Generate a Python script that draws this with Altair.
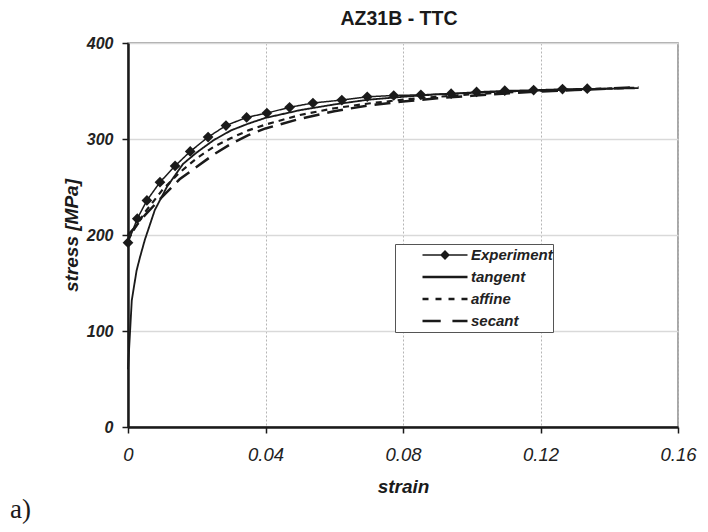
import altair as alt
import pandas as pd

series_order = ["Experiment", "tangent", "affine", "secant"]

exp_strain = [0.0000, 0.0027, 0.0055, 0.0093, 0.0137, 0.0181, 0.0233, 0.0285, 0.0345, 0.0404,
              0.0470, 0.0538, 0.0622, 0.0696, 0.0773, 0.0852, 0.0940, 0.1014, 0.1096, 0.1180,
              0.1264, 0.1336]
exp_stress = [192, 217, 236, 255, 272, 287, 302, 314, 322.5, 327,
              333, 337.5, 340.6, 344, 345.3, 346, 347.2, 349, 350.3, 351,
              352, 352.4]

tan_strain = [0.0, 0.0003, 0.0011, 0.0025, 0.0035, 0.0049, 0.0078, 0.0113, 0.016, 0.020,
              0.025, 0.030, 0.035, 0.040, 0.050, 0.060, 0.070, 0.080, 0.090, 0.100,
              0.110, 0.120, 0.130, 0.140, 0.1485]
tan_stress = [60, 80, 132, 163, 177, 195, 226, 250, 274, 286,
              299, 309, 316, 322, 330, 336, 341, 344, 346.5, 348,
              349.5, 350.5, 351.5, 352.3, 353]

mod_strain = [0.0, 0.002, 0.005, 0.010, 0.015, 0.020, 0.025, 0.030, 0.035, 0.040,
              0.050, 0.060, 0.070, 0.080, 0.090, 0.100, 0.110, 0.120, 0.130, 0.140, 0.1485]
aff_stress = [195, 207, 224, 247, 265, 280, 292, 301, 309, 315,
              325, 332, 337, 341, 344, 346.5, 348.5, 350, 351.5, 352.7, 353.5]
sec_stress = [200, 208, 221, 240, 258, 271, 284, 295, 304, 311,
              321, 329, 335, 339, 342.5, 345, 347.5, 349.5, 351, 352.5, 354]

x_ticks = [0, 0.04, 0.08, 0.12, 0.16]
y_ticks = [0, 100, 200, 300, 400]

rows = []
for x, y in zip(exp_strain, exp_stress):
    rows.append({"series": "Experiment", "strain": x, "stress": y})
for x, y in zip(tan_strain, tan_stress):
    rows.append({"series": "tangent", "strain": x, "stress": y})
for x, y in zip(mod_strain, aff_stress):
    rows.append({"series": "affine", "strain": x, "stress": y})
for x, y in zip(mod_strain, sec_stress):
    rows.append({"series": "secant", "strain": x, "stress": y})
df = pd.DataFrame(rows)
df_exp = df[df.series == "Experiment"]

FONT = "Liberation Sans"

xenc = alt.X("strain:Q", scale=alt.Scale(domain=[0, 0.16], nice=False, zero=False),
             axis=alt.Axis(title="strain", values=x_ticks, format="~g", grid=True,
                           gridDash=[2, 2], gridColor="#b5b5b5", gridWidth=1,
                           domainColor="#1a1a1a", domainWidth=2.5,
                           tickColor="#1a1a1a", tickWidth=1.5, tickSize=6,
                           labelFont=FONT, labelFontSize=18.5, labelFontStyle="italic",
                           labelColor="#222222", labelPadding=12, labelFlush=False,
                           labelOverlap=False,
                           titleFont=FONT, titleFontSize=19, titleFontStyle="italic",
                           titleFontWeight="bold", titleColor="#1a1a1a", titlePadding=14))
yenc = alt.Y("stress:Q", scale=alt.Scale(domain=[0, 400], nice=False),
             axis=alt.Axis(title="stress [MPa]", values=y_ticks, grid=True,
                           gridColor="#d9d9d9", gridWidth=1.5,
                           domainColor="#1a1a1a", domainWidth=2.5,
                           tickColor="#1a1a1a", tickWidth=1.5, tickSize=6,
                           labelFont=FONT, labelFontSize=16, labelFontStyle="italic",
                           labelFontWeight="bold", labelColor="#222222", labelPadding=9,
                           labelFlush=False, labelOverlap=False,
                           titleFont=FONT, titleFontSize=19, titleFontStyle="italic",
                           titleFontWeight="bold", titleColor="#1a1a1a", titlePadding=5))


def bar(a, b, h):
    return f"M{a},{-h}H{b}V{h}H{a}Z"


# filled legend glyphs (unit box -1..1): thin line + diamond, solid, short dashes, long dashes
shape_range = [
    bar(-1, 1, 0.033) + "M-0.22,0L0,-0.22L0.22,0L0,0.22Z",
    bar(-1, 1, 0.056),
    bar(-1, -0.733, 0.056) + bar(-0.422, -0.156, 0.056) + bar(0.156, 0.422, 0.056)
    + bar(0.733, 1, 0.056),
    bar(-1, -0.19, 0.056) + bar(0.33, 1, 0.056),
]


def make_legend():
    return alt.Legend(
        title=None, orient="none", legendX=267, legendY=201, direction="vertical",
        fillColor="white", strokeColor="#555555", padding=0,
        symbolSize=2025, symbolStrokeWidth=0, symbolStrokeColor="#1a1a1a",
        symbolFillColor="#1a1a1a", symbolOpacity=1,
        symbolOffset=26, labelOffset=2, clipHeight=22, rowPadding=0,
        labelFont=FONT, labelFontSize=15, labelFontStyle="italic", labelFontWeight="bold",
        labelColor="#222222", labelExpr="datum.label + '\u2003\u2003'",
    )


lines = alt.Chart(df).mark_line(color="#1a1a1a").encode(
    x=xenc, y=yenc,
    strokeDash=alt.StrokeDash("series:N", scale=alt.Scale(domain=series_order,
                              range=[[1, 0], [1, 0], [6, 5], [16, 8]]), legend=make_legend()),
    strokeWidth=alt.StrokeWidth("series:N", scale=alt.Scale(domain=series_order,
                                range=[1.5, 2.5, 2.5, 2.5]), legend=make_legend()),
)

# carries the shape part of the legend; its own marks are transparent
legend_points = alt.Chart(df_exp).mark_point(filled=True, size=2025, color="#1a1a1a",
                                             opacity=0).encode(
    x="strain:Q", y="stress:Q",
    shape=alt.Shape("series:N", scale=alt.Scale(domain=series_order, range=shape_range),
                    legend=make_legend()),
)

points = alt.Chart(df_exp).mark_point(shape="diamond", filled=True, size=115,
                                      color="#1a1a1a", opacity=1).encode(
    x="strain:Q", y="stress:Q")

title_df = pd.DataFrame({"t": ["AZ31B - TTC"]})
title = alt.Chart(title_df).mark_text(font=FONT, fontSize=19.5, fontWeight="bold",
                                      align="center", baseline="alphabetic",
                                      color="#1a1a1a").encode(
    text="t:N", x=alt.value(271), y=alt.value(-18))

label_df = pd.DataFrame({"t": ["a)"]})
tag = alt.Chart(label_df).mark_text(font="Liberation Serif", fontSize=27, align="left",
                                    baseline="alphabetic", color="#1a1a1a").encode(
    text="t:N", x=alt.value(-118), y=alt.value(475))

chart = alt.layer(lines, legend_points, points, title, tag).properties(
    width=550, height=384,
    autosize=alt.AutoSizeParams(type="none"),
    padding={"left": 120, "top": 35, "right": 22, "bottom": 97},
).configure_view(stroke="#8a8a8a", strokeWidth=1.5)

chart.save("out.html", embed_options={"renderer": "svg", "actions": False})
